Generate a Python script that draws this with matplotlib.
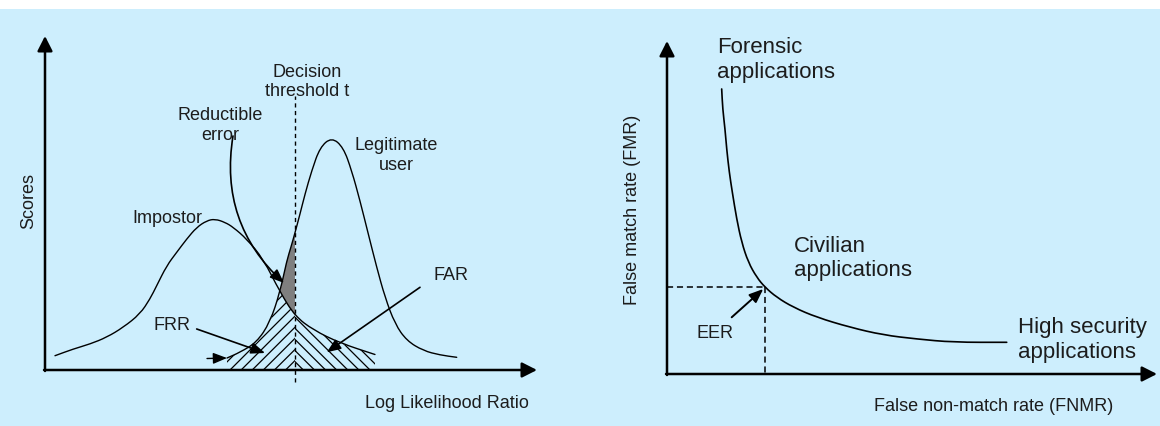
import matplotlib
matplotlib.use("Agg")
import matplotlib.pyplot as plt
from matplotlib.patches import Rectangle, Polygon, PathPatch
from matplotlib.path import Path

plt.rcParams['font.family'] = ['Liberation Sans', 'DejaVu Sans']
plt.rcParams['hatch.linewidth'] = 0.9

# ---------------- data ----------------
# Left panel: score distributions vs log likelihood ratio (arbitrary units 0-100)
impostor_x = [2.03, 5.75, 9.15, 12.54, 15.91, 19.31, 21.34, 22.70, 24.74, 26.77, 28.80,
              30.83, 32.87, 34.55, 36.59, 38.27, 41.00, 44.37, 47.76, 50.80, 54.53,
              59.96, 67.07]
impostor_y = [4.28, 6.29, 7.78, 9.79, 12.78, 16.77, 21.26, 25.24, 31.23, 35.24, 39.22,
              42.72, 44.70, 45.21, 44.22, 42.72, 39.22, 33.23, 23.35, 16.17, 11.98,
              8.08, 4.64]
legit_x = [32.93, 36.99, 39.63, 43.03, 45.73, 47.76, 49.13, 50.00, 50.80, 51.83, 52.85,
           54.21, 55.89, 58.27, 60.63, 62.34, 64.02, 65.71, 67.42, 69.11, 71.14,
           73.52, 76.89, 80.28, 83.68]
legit_y = [3.44, 3.59, 5.30, 8.29, 14.28, 23.35, 32.63, 36.83, 41.02, 46.71, 52.69,
           59.67, 66.68, 69.67, 66.68, 59.67, 50.69, 40.72, 30.75, 21.77, 13.77,
           8.77, 5.78, 4.49, 3.80]
threshold = 50.80
threshold_range = [-3.6, 82.0]

# Right panel: FMR vs FNMR trade-off curve (arbitrary units 0-100)
fnmr = [11.16, 11.37, 11.84, 12.18, 12.71, 13.33, 14.22, 15.24, 16.59, 18.31, 20.00,
        22.39, 25.78, 30.55, 37.35, 44.14, 50.96, 58.43, 69.33]
fmr = [85.59, 79.58, 73.57, 67.57, 60.57, 54.56, 46.55, 39.55, 33.54, 29.04, 26.04,
       23.03, 20.03, 17.03, 14.02, 11.71, 10.51, 9.52, 9.52]
eer_x, eer_y = 20.00, 26.04

# ---------------- figure ----------------
W, H = 1160, 427
fig = plt.figure(figsize=(W / 100, H / 100), dpi=100)
fig.patch.set_facecolor('white')
BG = '#cdeefd'
fig.patches.append(Rectangle((0, 0), 1, (H - 10) / H, transform=fig.transFigure,
                             facecolor=BG, edgecolor='none', zorder=-10))

TXT = '#1c1c1c'
LINE = 'black'


def axes_px(x0, x1, ytop, ybot):
    return fig.add_axes([x0 / W, (H - ybot) / H, (x1 - x0) / W, (ybot - ytop) / H])


def smooth_path(xs, ys):
    """Quadratic-Bezier rendering through the midpoints of the read points."""
    pts = list(zip(xs, ys))
    verts = [pts[0]]
    codes = [Path.MOVETO]
    mid = lambda a, b: ((a[0] + b[0]) / 2, (a[1] + b[1]) / 2)
    verts.append(mid(pts[0], pts[1]))
    codes.append(Path.LINETO)
    for i in range(1, len(pts) - 1):
        verts += [pts[i], mid(pts[i], pts[i + 1])]
        codes += [Path.CURVE3, Path.CURVE3]
    verts.append(pts[-1])
    codes.append(Path.LINETO)
    return Path(verts, codes)


def draw_curve(ax, xs, ys, lw):
    ax.add_patch(PathPatch(smooth_path(xs, ys), facecolor='none', edgecolor=LINE,
                           lw=lw, zorder=3, clip_on=False, capstyle='round',
                           joinstyle='round'))


def draw_axes_arrows(ax):
    kw = dict(xycoords='axes fraction', textcoords='axes fraction',
              arrowprops=dict(arrowstyle='-|>,head_length=0.75,head_width=0.38',
                              mutation_scale=12, lw=1.8, color=LINE,
                              shrinkA=0, shrinkB=0), annotation_clip=False)
    ax.annotate('', xy=(0, 1), xytext=(0, -0.003), **kw)
    ax.annotate('', xy=(1, 0), xytext=(-0.002, 0), **kw)


def small_arrow(ax, start, end, rad=0.0, lw=1.2):
    ax.annotate('', xy=end, xytext=start, annotation_clip=False,
                arrowprops=dict(arrowstyle='-|>,head_length=0.7,head_width=0.28',
                                mutation_scale=12, lw=lw, color=LINE,
                                shrinkA=0, shrinkB=0,
                                connectionstyle=f'arc3,rad={rad}'))


# ---------------- left panel ----------------
axL = axes_px(45, 537, 37, 371)
axL.set_xlim(0, 100)
axL.set_ylim(0, 100)
axL.axis('off')
draw_axes_arrows(axL)

i_cross = impostor_x.index(47.76)
i_thr = impostor_x.index(threshold)
l_cross = legit_x.index(47.76)
l_thr = legit_x.index(threshold)

# hatched error areas
left_poly = ([(legit_x[1], 0)] + list(zip(legit_x[1:l_cross + 1], legit_y[1:l_cross + 1]))
             + list(zip(impostor_x[i_cross + 1:i_thr + 1], impostor_y[i_cross + 1:i_thr + 1]))
             + [(threshold, 0)])
right_poly = ([(threshold, 0)] + list(zip(impostor_x[i_thr:], impostor_y[i_thr:]))
              + [(impostor_x[-1], 0)])
axL.add_patch(Polygon(left_poly, closed=True, facecolor='none', edgecolor=LINE,
                      lw=0, hatch='///', zorder=2))
axL.add_patch(Polygon(right_poly, closed=True, facecolor='none', edgecolor=LINE,
                      lw=0, hatch='\\\\\\', zorder=2))
# reducible error (grey)
grey_poly = (list(zip(legit_x[l_cross:l_thr + 1], legit_y[l_cross:l_thr + 1]))
             + list(zip(impostor_x[i_thr:i_cross - 1:-1], impostor_y[i_thr:i_cross - 1:-1])))
axL.add_patch(Polygon(grey_poly, closed=True, facecolor='#7f7f7f', edgecolor='none', zorder=2))

draw_curve(axL, impostor_x, impostor_y, 1.0)
draw_curve(axL, legit_x[1:], legit_y[1:], 1.0)
small_arrow(axL, (legit_x[0], legit_y[0]), (legit_x[1], legit_y[1]), lw=1.0)
axL.plot([threshold, threshold], threshold_range, color=LINE, lw=1.0,
         linestyle=(0, (3, 2.5)), zorder=4, clip_on=False)

fsL = 13
axL.text(53.25, 82.2, 'Decision\nthreshold t', ha='center', va='baseline',
         fontsize=fsL, color=TXT, linespacing=1.2)
axL.text(35.57, 69.3, 'Reductible\nerror', ha='center', va='baseline',
         fontsize=fsL, color=TXT, linespacing=1.2)
axL.text(71.34, 60.3, 'Legitimate\nuser', ha='center', va='baseline',
         fontsize=fsL, color=TXT, linespacing=1.2)
axL.text(17.76, 44.31, 'Impostor', ha='left', va='baseline', fontsize=fsL, color=TXT)
axL.text(78.98, 27.37, 'FAR', ha='left', va='baseline', fontsize=fsL, color=TXT)
axL.text(22.05, 12.40, 'FRR', ha='left', va='baseline', fontsize=fsL, color=TXT)
axL.text(98.4, -11.08, 'Log Likelihood Ratio', ha='right', va='baseline',
         fontsize=fsL, color=TXT, clip_on=False)
axL.text(-3.31, 50.96, 'Scores', ha='center', va='center', rotation=90,
         fontsize=fsL, color=TXT)

small_arrow(axL, (38.21, 70.06), (48.58, 26.05), rad=0.27)
small_arrow(axL, (30.83, 12.28), (44.72, 5.09))
small_arrow(axL, (76.22, 24.76), (57.26, 5.30))

# ---------------- right panel ----------------
axR = axes_px(667, 1157, 42, 375)
axR.set_xlim(0, 100)
axR.set_ylim(0, 100)
axR.axis('off')
draw_axes_arrows(axR)

draw_curve(axR, fnmr, fmr, 1.2)
axR.plot([0, eer_x], [eer_y, eer_y], color=LINE, lw=1.1, linestyle=(0, (4, 2.5)), zorder=2)
axR.plot([eer_x, eer_x], [eer_y, 0], color=LINE, lw=1.1, linestyle=(0, (4, 2.5)), zorder=2)
small_arrow(axR, (13.20, 17.03), (19.65, 25.53), lw=1.4)

fsR = 16
axR.text(10.18, 89.3, 'Forensic\napplications', ha='left', va='baseline',
         fontsize=fsR, color=TXT, linespacing=1.2)
axR.text(25.88, 29.8, 'Civilian\napplications', ha='left', va='baseline',
         fontsize=fsR, color=TXT, linespacing=1.2)
axR.text(71.71, 5.2, 'High security\napplications', ha='left', va='baseline',
         fontsize=fsR, color=TXT, linespacing=1.2)
axR.text(6.02, 11.11, 'EER', ha='left', va='baseline', fontsize=13, color=TXT)
axR.text(42.24, -10.81, 'False non-match rate (FNMR)', ha='left', va='baseline',
         fontsize=13, color=TXT)
axR.text(-7.14, 49.55, 'False match rate (FMR)', ha='center', va='center',
         rotation=90, fontsize=13, color=TXT)

fig.savefig('out.png', dpi=100, facecolor=fig.get_facecolor())
